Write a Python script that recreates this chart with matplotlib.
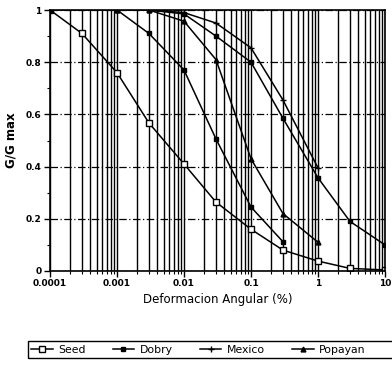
import matplotlib
matplotlib.use("Agg")
import matplotlib.pyplot as plt
from matplotlib.ticker import FixedLocator, NullFormatter, LogLocator
from matplotlib.patches import Rectangle

# Data
seed_x = [0.0001, 0.0003, 0.001, 0.003, 0.01, 0.03, 0.1, 0.3, 1, 3, 10]
seed_y = [1.0, 0.91, 0.76, 0.567, 0.41, 0.264, 0.16, 0.08, 0.038, 0.01, 0.004]

dobry_x = [0.0001, 0.001, 0.003, 0.01, 0.03, 0.1, 0.3]
dobry_y = [1.0, 1.0, 0.91, 0.77, 0.506, 0.245, 0.112]

dobry2_x = [0.001, 0.003, 0.01, 0.03, 0.1, 0.3, 1, 3, 10]
dobry2_y = [1.0, 1.0, 0.985, 0.90, 0.80, 0.585, 0.357, 0.19, 0.10]

mexico_x = [0.001, 0.003, 0.01, 0.03, 0.1, 0.3, 1]
mexico_y = [1.0, 1.0, 0.99, 0.95, 0.855, 0.655, 0.395]

popayan_x = [0.001, 0.003, 0.01, 0.03, 0.1, 0.3, 1]
popayan_y = [1.0, 1.0, 0.957, 0.81, 0.43, 0.22, 0.11]

labels = ["Seed", "Dobry", "Mexico", "Popayan"]
x_ticks = [0.0001, 0.001, 0.01, 0.1, 1, 10]
x_ticklabels = ["0.0001", "0.001", "0.01", "0.1", "1", "10"]
y_ticks = [0, 0.2, 0.4, 0.6, 0.8, 1]
y_ticklabels = ["0", "0.2", "0.4", "0.6", "0.8", "1"]

W, H = 392, 365
fig = plt.figure(figsize=(W/100, H/100), dpi=100)
ax = fig.add_axes([50/W, 1-271/H, (385-50)/W, (271-10)/H])

ax.set_xscale("log")
ax.set_xlim(0.0001, 10)
ax.set_ylim(0, 1)

# vertical grid at every log minor tick
ax.xaxis.set_major_locator(FixedLocator(x_ticks))
ax.xaxis.set_minor_locator(LogLocator(base=10, subs=range(2, 10), numticks=20))
ax.xaxis.set_minor_formatter(NullFormatter())
ax.set_xticklabels(x_ticklabels)
ax.grid(True, which="both", axis="x", color="black", linewidth=1.0, linestyle="-")
ax.set_yticks(y_ticks)
ax.set_yticklabels(y_ticklabels)
ax.set_yticks([0.1, 0.3, 0.5, 0.7, 0.9], minor=True)
ax.grid(True, which="major", axis="y", color="black", linewidth=0.9, linestyle="-.", dashes=(6, 2, 1, 2))

lw = 1.1
h1, = ax.plot(seed_x, seed_y, color="black", lw=lw, marker="s", mfc="white", mec="black", ms=4.5, mew=1.0, label=labels[0])
h2, = ax.plot(dobry_x, dobry_y, color="black", lw=lw, marker="s", mfc="black", ms=2.8, label=labels[1])
ax.plot(dobry2_x, dobry2_y, color="black", lw=lw, marker="s", mfc="black", ms=2.8)
h3, = ax.plot(mexico_x, mexico_y, color="black", lw=lw, marker="+", ms=5, mew=1.0, label=labels[2])
h4, = ax.plot(popayan_x, popayan_y, color="black", lw=lw, marker="^", mfc="black", ms=3.5, label=labels[3])

for s in ax.spines.values():
    s.set_linewidth(1.2)
    s.set_color("black")

ax.tick_params(axis="both", which="major", labelsize=6.5, length=4, width=1.0, direction="out", pad=2)
ax.tick_params(axis="both", which="minor", length=2.5, width=0.8, direction="out")
for t in ax.get_xticklabels() + ax.get_yticklabels():
    t.set_fontweight("bold")

ax.set_xlabel("Deformacion Angular (%)", fontsize=8.5, labelpad=3)
ax.set_ylabel("G/G max", fontsize=8.5, fontweight="bold", labelpad=6)

leg = fig.legend(handles=[h1, h2, h3, h4], labels=labels, loc="center left",
                 bbox_to_anchor=(31/W, 1-350/H), ncol=4, fontsize=7.8, frameon=False,
                 handlelength=2.0, handletextpad=0.5, columnspacing=2.5,
                 borderpad=0.0, borderaxespad=0)

fig.add_artist(Rectangle((28/W, 1-358/H), (W+5-28)/W, 17/H, transform=fig.transFigure,
                         fill=False, edgecolor="black", linewidth=1.0, clip_on=False))

fig.savefig("out.png", dpi=100)
